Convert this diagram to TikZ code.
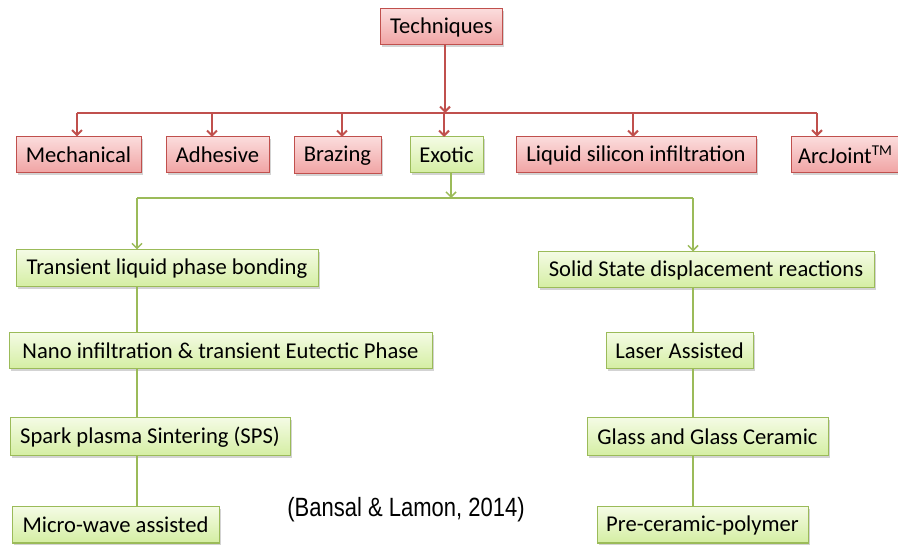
\documentclass[tikz,border=0pt]{standalone}
\usepackage{fontspec}
\setmainfont{Carlito}
\newfontfamily\citefont{Liberation Sans}
\usetikzlibrary{arrows.meta,shadows}
\definecolor{redborder}{HTML}{C0504D}
\definecolor{redtop}{HTML}{FBDCDC}
\definecolor{redbot}{HTML}{F0A3A3}
\definecolor{greenborder}{HTML}{9BBB59}
\definecolor{greentop}{HTML}{F4FBE4}
\definecolor{greenbot}{HTML}{D4EEA2}
\tikzset{
  box/.style={inner sep=0pt, font=\fontsize{22.6}{26}\selectfont, line width=1pt,
    drop shadow={shadow xshift=1.5pt, shadow yshift=-2pt, opacity=0.35, fill=gray}},
  redbox/.style={box, draw=redborder, top color=redtop, bottom color=redbot},
  greenbox/.style={box, draw=greenborder, top color=greentop, bottom color=greenbot},
  redline/.style={draw=redborder, line width=2pt},
  greenline/.style={draw=greenborder, line width=1.5pt},
  redarrow/.style={redline, -{Straight Barb[length=5pt,width=10pt,line width=2pt]}},
  greenarrow/.style={greenline, -{Straight Barb[length=5pt,width=10pt,line width=1.5pt]}}
}
\begin{document}
\begin{tikzpicture}[x=1pt,y=-1pt]
\useasboundingbox (0,0) rectangle (898,545);
% top level
\node[redbox, minimum width=122pt, minimum height=36pt] (tech) at (441.5,27) {Techniques};
\node[redbox, minimum width=125pt, minimum height=36pt] (mech) at (78.5,155) {Mechanical};
\node[redbox, minimum width=103pt, minimum height=36pt] (adh) at (217.5,155) {Adhesive};
\node[redbox, minimum width=87pt, minimum height=37pt] (braz) at (337.5,155.5) {Brazing};
\node[greenbox, minimum width=73pt, minimum height=36pt] (exo) at (446.5,155) {Exotic};
\node[redbox, minimum width=240pt, minimum height=36pt] (liq) at (636,155) {Liquid silicon infiltration};
\node[redbox, minimum width=108pt, minimum height=36pt] (arc) at (845,155) {ArcJoint{\fontsize{15}{16}\selectfont\raisebox{1.1ex}{TM}}};
% red bus
\coordinate (rb) at (445,113);
\coordinate (rbl) at (77,113);
\coordinate (rbr) at (817,113);
\draw[redarrow] (tech.south -| rb) -- (rb);
\draw[redline] (rbl) -- (rbr);
\draw[redarrow] (rbl) -- (rbl |- mech.north);
\draw[redarrow] (212,113) -- (212,137);
\draw[redarrow] (342,113) -- (342,137);
\draw[redarrow] (444,113) -- (444,137);
\draw[redarrow] (633,113) -- (633,137);
\draw[redarrow] (rbr) -- (rbr |- arc.north);
% green level
\node[greenbox, minimum width=302pt, minimum height=37pt] (trans) at (167,268.5) {Transient liquid phase bonding};
\node[greenbox, minimum width=423pt, minimum height=36pt] (nano) at (220.5,351) {Nano infiltration \& transient Eutectic Phase};
\node[greenbox, minimum width=280pt, minimum height=38pt] (spark) at (150,437) {Spark plasma Sintering (SPS)};
\node[greenbox, minimum width=207pt, minimum height=36pt] (micro) at (115.5,525) {Micro-wave assisted};
\node[greenbox, minimum width=336pt, minimum height=36pt] (solid) at (706,270) {Solid State displacement reactions};
\node[greenbox, minimum width=147pt, minimum height=36pt] (laser) at (679.5,351) {Laser Assisted};
\node[greenbox, minimum width=241pt, minimum height=38pt] (glass) at (707.5,437) {Glass and Glass Ceramic};
\node[greenbox, minimum width=211pt, minimum height=36pt] (pre) at (702.5,525) {Pre-ceramic-polymer};
\coordinate (gb) at (451,198);
\coordinate (gbl) at (137,198);
\coordinate (gbr) at (693,198);
\draw[greenarrow] (exo.south -| gb) -- (gb);
\draw[greenline] (gbl) -- (gbr);
\draw[greenarrow] (gbl) -- (gbl |- trans.north);
\draw[greenarrow] (gbr) -- (gbr |- solid.north);
\draw[greenline] (trans.south -| gbl) -- (nano.north -| gbl);
\draw[greenline] (nano.south -| gbl) -- (spark.north -| gbl);
\draw[greenline] (spark.south -| gbl) -- (micro.north -| gbl);
\draw[greenline] (solid.south -| gbr) -- (laser.north -| gbr);
\draw[greenline] (laser.south -| gbr) -- (glass.north -| gbr);
\draw[greenline] (glass.south -| gbr) -- (pre.north -| gbr);
% citation
\node[font=\citefont\fontsize{22}{26}\selectfont, inner sep=0pt] (cite) at (406,510) {\scalebox{1}[1.2]{(Bansal \& Lamon, 2014)}};
\end{tikzpicture}
\end{document}
